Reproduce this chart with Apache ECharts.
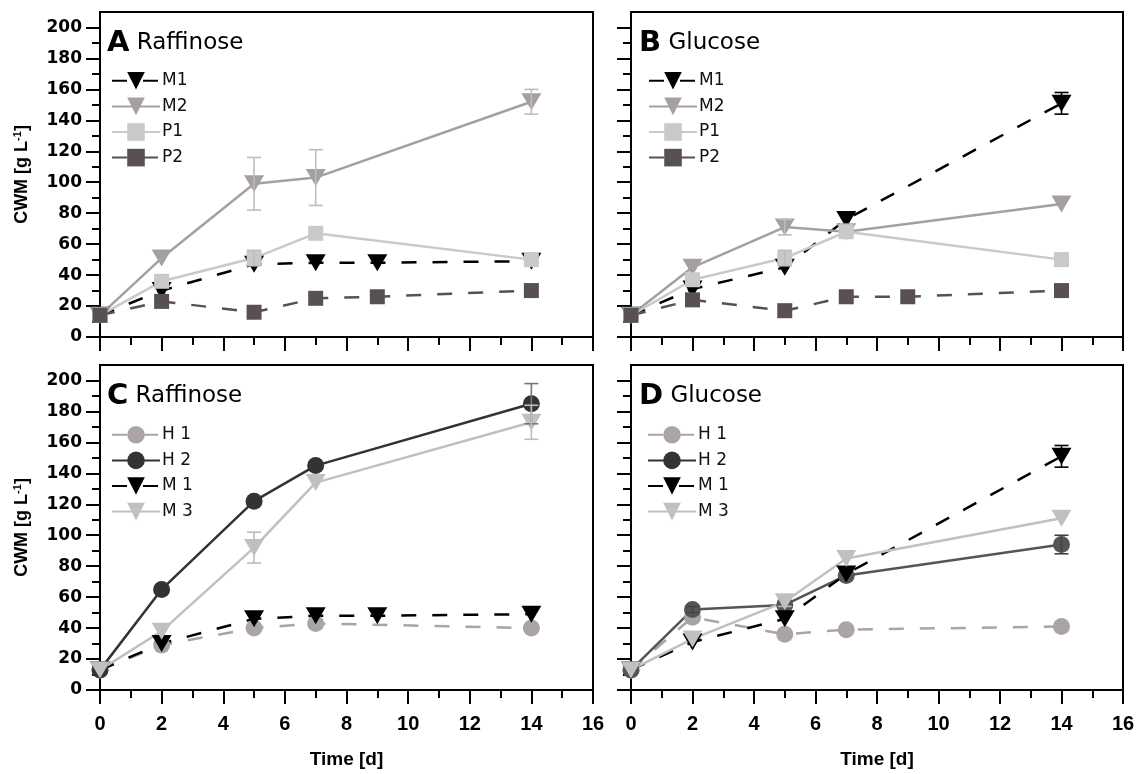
<!DOCTYPE html>
<html>
<head>
<meta charset="utf-8">
<script src="https://cdn.jsdelivr.net/npm/echarts@6/dist/echarts.min.js"></script>
<style>html,body{margin:0;padding:0;background:#fff;}#c{width:1140px;height:774px;}</style>
</head>
<body>
<div id="c"></div>
<script>
// ---- Data ----
const xTicks = [0, 2, 4, 6, 8, 10, 12, 14, 16];
const yMajor = [0, 20, 40, 60, 80, 100, 120, 140, 160, 180, 200];
const yMinor = [10, 30, 50, 70, 90, 110, 130, 150, 170, 190];

// Panel A – Raffinose
const rafM1X = [0, 2, 5, 7, 9, 14];
const rafM1 = [14, 30, 47, 48, 48, 49];
const rafM2X = [0, 2, 5, 7, 14];
const rafM2 = [14, 51, 99, 103, 152];
const rafM2Err = [0, 0, 17, 18, 8];
const rafP1X = [0, 2, 5, 7, 14];
const rafP1 = [14, 36, 51, 67, 50];
const rafP1Err = [0, 0, 5, 0, 0];
const rafP2X = [0, 2, 5, 7, 9, 14];
const rafP2 = [14, 23, 16, 25, 26, 30];

// Panel B – Glucose
const gluM1X = [0, 2, 5, 7, 14];
const gluM1 = [14, 31, 45, 76, 151];
const gluM1Err = [0, 0, 0, 0, 7];
const gluM2X = [0, 2, 5, 7, 14];
const gluM2 = [14, 45, 71, 68, 86];
const gluM2Err = [0, 0, 5, 0, 0];
const gluP1X = [0, 2, 5, 7, 14];
const gluP1 = [14, 37, 51, 68, 50];
const gluP1Err = [0, 0, 5, 0, 0];
const gluP2X = [0, 2, 5, 7, 9, 14];
const gluP2 = [14, 24, 17, 26, 26, 30];

// Panel C – Raffinose
const rafH1X = [0, 2, 5, 7, 14];
const rafH1 = [13, 29, 40, 43, 40];
const rafH2X = [0, 2, 5, 7, 14];
const rafH2 = [13, 65, 122, 145, 185];
const rafH2Err = [0, 0, 0, 0, 13];
const rafCM1X = [0, 2, 5, 7, 9, 14];
const rafCM1 = [13, 30, 46, 48, 48, 49];
const rafM3X = [0, 2, 5, 7, 14];
const rafM3 = [13, 38, 92, 134, 173];
const rafM3Err = [0, 0, 10, 0, 11];

// Panel D – Glucose
const gluH1X = [0, 2, 5, 7, 14];
const gluH1 = [13, 47, 36, 39, 41];
const gluH2X = [0, 2, 5, 7, 14];
const gluH2 = [13, 52, 55, 74, 94];
const gluH2Err = [0, 2, 0, 0, 6];
const gluDM1X = [0, 2, 5, 7, 14];
const gluDM1 = [13, 31, 46, 75, 151];
const gluDM1Err = [0, 0, 0, 0, 7];
const gluM3X = [0, 2, 5, 7, 14];
const gluM3 = [13, 33, 57, 85, 111];
const gluM3Err = [0, 0, 3, 0, 0];

// ---- Styles ----
const DASH = [15, 16];
const TRI = { symbol: 'triangle', size: [20, 17], rotate: 180 };
const SQR = { symbol: 'rect', size: 15, rotate: 0 };
const CIR = { symbol: 'circle', size: 17, rotate: 0 };

function pairs(xs, ys) { return xs.map((x, i) => [x, ys[i]]); }

function line(name, g, xs, ys, mk, color, dashed) {
  return {
    type: 'line', name: name, xAxisIndex: g, yAxisIndex: 2 * g,
    data: pairs(xs, ys),
    symbol: mk.symbol, symbolSize: mk.size, symbolRotate: mk.rotate,
    showAllSymbol: true,
    lineStyle: { color: color, width: 2.5, type: dashed ? DASH : 'solid' },
    itemStyle: { color: color, opacity: 1 },
    emphasis: { disabled: true },
    z: 2
  };
}

function errBars(g, xs, ys, errs, color) {
  const d = [];
  xs.forEach((x, i) => { if (errs[i] > 0) d.push([x, ys[i] - errs[i], ys[i] + errs[i]]); });
  return {
    type: 'custom', xAxisIndex: g, yAxisIndex: 2 * g, data: d, z: 3, silent: true,
    renderItem: function (params, api) {
      const x = api.value(0);
      const lo = api.coord([x, api.value(1)]);
      const hi = api.coord([x, api.value(2)]);
      const w = 7;
      const st = { stroke: color, lineWidth: 1.6 };
      return {
        type: 'group', children: [
          { type: 'line', shape: { x1: hi[0], y1: hi[1], x2: lo[0], y2: lo[1] }, style: st },
          { type: 'line', shape: { x1: hi[0] - w, y1: hi[1], x2: hi[0] + w, y2: hi[1] }, style: st },
          { type: 'line', shape: { x1: lo[0] - w, y1: lo[1], x2: lo[0] + w, y2: lo[1] }, style: st }
        ]
      };
    }
  };
}

const C_BLACK = '#000000', C_M2 = '#a59fa3', C_P1 = '#c9c9c9', C_P2 = '#585055',
      C_H1 = '#aaa4a7', C_H2 = '#333333', C_H2D = '#555555', C_M3 = '#c0c0c0', C_ERRL = '#bdbdbd';

const grids = [
  { left: 100, top: 12, width: 493, height: 325 },
  { left: 631, top: 12, width: 492, height: 325 },
  { left: 100, top: 365, width: 493, height: 325 },
  { left: 631, top: 365, width: 492, height: 325 }
].map(g => Object.assign(g, { show: true, borderColor: '#000', borderWidth: 2, containLabel: false }));

const xAxes = [0, 1, 2, 3].map(g => ({
  type: 'value', gridIndex: g, min: 0, max: 16, interval: 2,
  axisLine: { show: true, onZero: false, lineStyle: { color: '#000', width: 2 } },
  axisTick: { show: true, length: 14, lineStyle: { color: '#000', width: 2 } },
  minorTick: { show: true, splitNumber: 2, length: 8, lineStyle: { color: '#000', width: 2 } },
  splitLine: { show: false },
  axisLabel: { show: g >= 2, margin: 24, color: '#000', fontFamily: 'Liberation Sans', fontWeight: 'bold', fontSize: 20 },
  name: g >= 2 ? 'Time [d]' : '', nameLocation: 'middle', nameGap: 60,
  nameTextStyle: { color: '#000', fontFamily: 'Liberation Sans', fontWeight: 'bold', fontSize: 19 }
}));

const yAxes = [];
[0, 1, 2, 3].forEach(g => {
  const labelled = (g === 0 || g === 2);
  yAxes.push({
    type: 'value', gridIndex: g, position: 'left', min: 0, max: 210, interval: 20,
    axisLine: { show: true, onZero: false, lineStyle: { color: '#000', width: 2 } },
    axisTick: { show: true, length: 14, customValues: yMajor, lineStyle: { color: '#000', width: 2 } },
    splitLine: { show: false },
    axisLabel: { show: labelled, customValues: yMajor, margin: 18, color: '#000', fontFamily: 'DejaVu Sans', fontWeight: 'bold', fontSize: 17 },
    name: labelled ? '{m|CWM [g L}{s|-1}{m|]}' : '', nameLocation: 'middle', nameGap: 68, nameRotate: 90,
    nameTextStyle: { rich: {
      m: { color: '#000', fontFamily: 'Liberation Sans', fontWeight: 'bold', fontSize: 18 },
      s: { color: '#000', fontFamily: 'Liberation Sans', fontWeight: 'bold', fontSize: 11, padding: [0, 0, 9, 0] }
    } }
  });
  yAxes.push({
    type: 'value', gridIndex: g, position: 'left', offset: 0, min: 0, max: 210, interval: 10,
    axisLine: { show: false },
    axisTick: { show: true, length: 8, customValues: yMinor, lineStyle: { color: '#000', width: 2 } },
    splitLine: { show: false },
    axisLabel: { show: false }
  });
});

const series = [
  // A
  line('M1', 0, rafM1X, rafM1, TRI, C_BLACK, true),
  line('M2', 0, rafM2X, rafM2, TRI, C_M2, false),
  line('P1', 0, rafP1X, rafP1, SQR, C_P1, false),
  line('P2', 0, rafP2X, rafP2, SQR, C_P2, true),
  errBars(0, rafM2X, rafM2, rafM2Err, C_ERRL),
  errBars(0, rafP1X, rafP1, rafP1Err, C_ERRL),
  // B
  line('M1', 1, gluM1X, gluM1, TRI, C_BLACK, true),
  line('M2', 1, gluM2X, gluM2, TRI, C_M2, false),
  line('P1', 1, gluP1X, gluP1, SQR, C_P1, false),
  line('P2', 1, gluP2X, gluP2, SQR, C_P2, true),
  errBars(1, gluM1X, gluM1, gluM1Err, C_BLACK),
  errBars(1, gluM2X, gluM2, gluM2Err, C_ERRL),
  errBars(1, gluP1X, gluP1, gluP1Err, C_ERRL),
  // C
  line('H 1', 2, rafH1X, rafH1, CIR, C_H1, true),
  line('H 2', 2, rafH2X, rafH2, CIR, C_H2, false),
  line('M 1', 2, rafCM1X, rafCM1, TRI, C_BLACK, true),
  line('M 3', 2, rafM3X, rafM3, TRI, C_M3, false),
  errBars(2, rafH2X, rafH2, rafH2Err, '#777777'),
  errBars(2, rafM3X, rafM3, rafM3Err, C_ERRL),
  // D
  line('H 1', 3, gluH1X, gluH1, CIR, C_H1, true),
  line('H 2', 3, gluH2X, gluH2, CIR, C_H2D, false),
  line('M 1', 3, gluDM1X, gluDM1, TRI, C_BLACK, true),
  line('M 3', 3, gluM3X, gluM3, TRI, C_M3, false),
  errBars(3, gluH2X, gluH2, gluH2Err, '#444444'),
  errBars(3, gluDM1X, gluDM1, gluDM1Err, C_BLACK),
  errBars(3, gluM3X, gluM3, gluM3Err, C_ERRL)
];

function legend(names, left, top) {
  return {
    data: names, left: left, top: top, orient: 'vertical', selectedMode: false,
    itemWidth: 48, itemHeight: 22, itemGap: 8,
    textStyle: { color: '#111', fontFamily: 'DejaVu Sans', fontSize: 17, padding: [0, 0, 0, -3] }
  };
}

function title(letter, word, left, top) {
  return {
    text: '{a|' + letter + '}{w| ' + word + '}', left: left, top: top,
    textStyle: { rich: {
      a: { fontFamily: 'DejaVu Sans', fontWeight: 'bold', fontSize: 29, color: '#000', lineHeight: 32 },
      w: { fontFamily: 'DejaVu Sans', fontWeight: 'normal', fontSize: 23, color: '#000', lineHeight: 32 }
    } }
  };
}

const chart = echarts.init(document.getElementById('c'), null, { renderer: 'canvas' });
chart.setOption({
  animation: false,
  backgroundColor: '#fff',
  title: [
    title('A', 'Raffinose', 102, 22),
    title('B', 'Glucose', 634, 22),
    title('C', 'Raffinose', 102, 375),
    title('D', 'Glucose', 634, 375)
  ],
  legend: [
    legend(['M1', 'M2', 'P1', 'P2'], 106, 67),
    legend(['M1', 'M2', 'P1', 'P2'], 643, 67),
    legend(['H 1', 'H 2', 'M 1', 'M 3'], 106, 421),
    legend(['H 1', 'H 2', 'M 1', 'M 3'], 642, 421)
  ],
  grid: grids,
  xAxis: xAxes,
  yAxis: yAxes,
  series: series
});
</script>
</body>
</html>
